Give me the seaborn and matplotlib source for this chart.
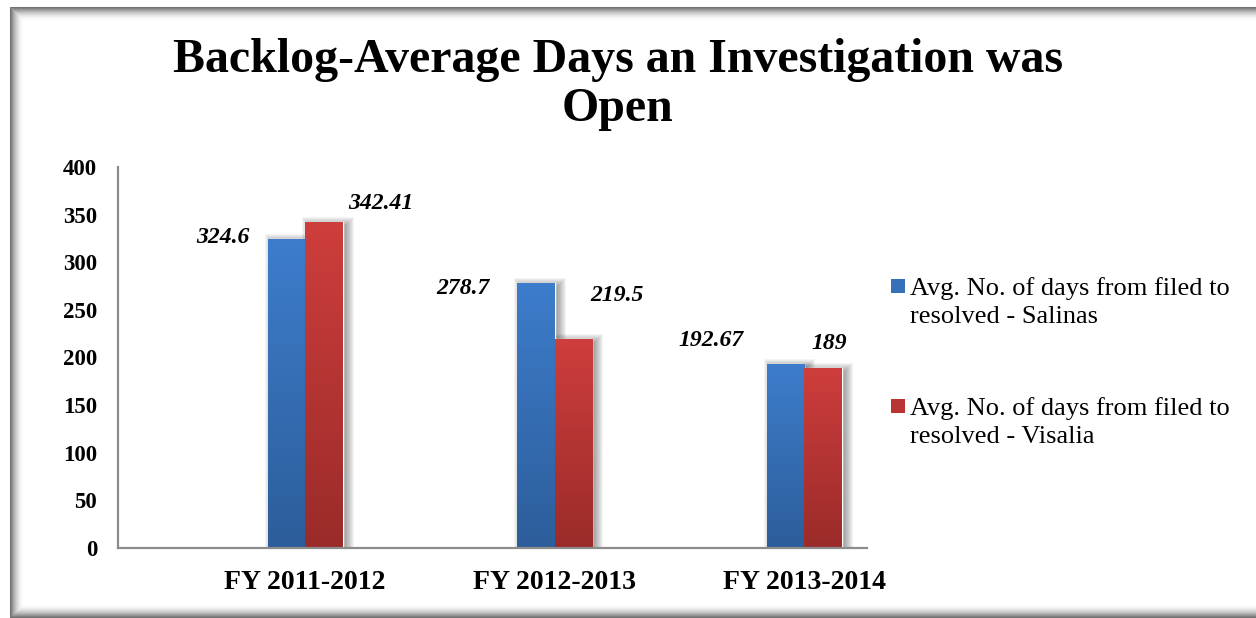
import numpy as np
import pandas as pd
import matplotlib
matplotlib.use('Agg')
import matplotlib.pyplot as plt
import matplotlib.transforms as mtransforms
from matplotlib.patches import Rectangle
from matplotlib.colors import LinearSegmentedColormap
import seaborn as sns

# ---------------------------------------------------------------------------
# Data
# ---------------------------------------------------------------------------
title = 'Backlog-Average Days an Investigation was\nOpen'
categories = ['FY 2011-2012', 'FY 2012-2013', 'FY 2013-2014']
series_names = ['Avg. No. of days from filed to\nresolved - Salinas',
                'Avg. No. of days from filed to\nresolved - Visalia']
salinas = [324.6, 278.7, 192.67]
visalia = [342.41, 219.5, 189]
salinas_labels = ['324.6', '278.7', '192.67']
visalia_labels = ['342.41', '219.5', '189']
y_ticks = [0, 50, 100, 150, 200, 250, 300, 350, 400]

df = pd.DataFrame({
    'Year': categories * 2,
    'Series': [series_names[0]] * 3 + [series_names[1]] * 3,
    'Days': salinas + visalia,
})

# styling
mid_colors = ['#3670B8', '#B93533']
top_colors = ['#3D7DCC', '#CE3E3C']
bottom_colors = ['#2D5D9A', '#9A2B2A']
# label offsets (pixels) relative to each bar top-centre, Excel-like placement
label_offsets = [[(-64, 1), (-73, -6), (-74, 24)],
                 [(57, 18), (44, 43), (6, 24)]]

sns.set_style('white')
plt.rcParams['font.family'] = ['Liberation Serif', 'DejaVu Serif']
plt.rcParams['text.color'] = 'black'
plt.rcParams['xtick.color'] = 'black'
plt.rcParams['ytick.color'] = 'black'

W, H = 1256, 618
fig = plt.figure(figsize=(W / 100, H / 100), dpi=100)
fig.subplots_adjust(left=0.094, right=0.690, bottom=0.1133, top=0.7298)
ax = fig.add_subplot(111)

sns.barplot(data=df, x='Year', y='Days', hue='Series', palette=mid_colors,
            width=0.3, legend=False, ax=ax, zorder=2, saturation=1)

ax.set_xlim(-0.75, 2.25)
ax.set_ylim(0, 400)
ax.set_yticks(y_ticks)
ax.set_yticklabels([str(t) for t in y_ticks], fontsize=16.5, fontweight='bold')
ax.set_xticks(range(len(categories)))
ax.set_xticklabels(categories, fontsize=20, fontweight='bold')
ax.tick_params(axis='both', length=0)
ax.tick_params(axis='y', pad=15)
ax.tick_params(axis='x', pad=16)
ax.set_xlabel('')
ax.set_ylabel('')
sns.despine(ax=ax)
for side in ['left', 'bottom']:
    ax.spines[side].set_color('#8C8C8C')
    ax.spines[side].set_linewidth(1.6)
    ax.spines[side].set_zorder(3)

# gradient fill + soft shadow for every bar
grad = np.linspace(0, 1, 256).reshape(-1, 1)
ident = mtransforms.IdentityTransform()
all_labels = [salinas_labels, visalia_labels]
for s, cont in enumerate(ax.containers):
    cmap = LinearSegmentedColormap.from_list('g%d' % s, [bottom_colors[s], top_colors[s]])
    for i, bar in enumerate(cont):
        x0 = bar.get_x()
        x1 = x0 + bar.get_width()
        h = bar.get_height()
        im = ax.imshow(grad, cmap=cmap, origin='lower', aspect='auto',
                       extent=(x0, x1, 0, h), zorder=2.1)
        im.set_clip_path(bar)
        (px0, py0), (px1, py1) = ax.transData.transform([[x0, 0], [x1, h]])
        for k in range(1, 10):
            sh = Rectangle((px0 - k + 6, py0), (px1 - px0) + 2 * k - 4, (py1 - py0) + k - 4,
                           transform=ident, facecolor='black', edgecolor='none',
                           alpha=0.045, zorder=1, clip_on=False)
            ax.add_artist(sh)
        dx, dy = label_offsets[s][i]
        ax.annotate(all_labels[s][i], xy=((x0 + x1) / 2, h), xytext=(dx, dy),
                    textcoords='offset pixels', ha='center', va='center',
                    fontsize=17, fontweight='bold', fontstyle='italic', zorder=5)
ax.set_xlim(-0.75, 2.25)
ax.set_ylim(0, 400)

# title
fig.text(0.492, 1 - 38 / H, title, ha='center', va='top', fontsize=34.5,
         fontweight='bold', linespacing=1.15)

# legend (handle aligned with the first line of each label)
for s, name in enumerate(series_names):
    top_px = 279 + s * 120
    fig.patches.append(Rectangle((891, H - top_px - 14), 14, 14, transform=ident,
                                 facecolor=mid_colors[s], edgecolor='none'))
    fig.text(910 / W, 1 - (top_px - 2) / H, name, ha='left', va='top',
             fontsize=19, linespacing=1.33)

# chart-area frame with inner shadow
fx0, fy0, fx1, fy1 = 10, 1, W + 20, H - 7
for k in range(14):
    a = 0.55 * (1 - k / 14) ** 2
    fig.patches.append(Rectangle((fx0 + k, fy0 + k), (fx1 - fx0) - 2 * k, (fy1 - fy0) - 2 * k,
                                 transform=ident, fill=False, edgecolor='black',
                                 linewidth=0.75, alpha=a))

fig.savefig('out.png', dpi=100)
